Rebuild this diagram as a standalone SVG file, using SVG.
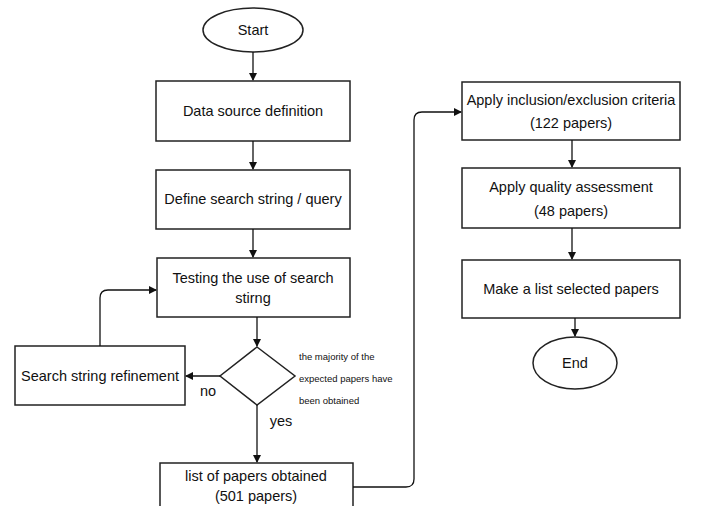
<svg xmlns="http://www.w3.org/2000/svg" width="701" height="506" viewBox="0 0 701 506">
<defs>
<marker id="ah" markerWidth="8" markerHeight="8" refX="7" refY="4" orient="auto" markerUnits="userSpaceOnUse">
<path d="M0,0 L8,4 L0,8 Z" fill="#111"/>
</marker>
<style>
.box{fill:#fff;stroke:#222;stroke-width:1.5}
.t{font-family:"Liberation Sans",Arial,sans-serif;font-size:14.5px;fill:#111;text-anchor:middle}
.s{font-family:"Liberation Sans",Arial,sans-serif;font-size:9.5px;fill:#111}
.c{fill:none;stroke:#111;stroke-width:1.3;marker-end:url(#ah)}
</style>
</defs>
<rect width="701" height="506" fill="#fff"/>
<g id="start"><ellipse class="box" cx="253" cy="30" rx="50" ry="22"/><text class="t" x="253" y="35">Start</text></g>
<g id="n1"><rect class="box" x="156" y="81" width="194" height="60"/><text class="t" x="253" y="116">Data source definition</text></g>
<g id="n2"><rect class="box" x="156" y="170" width="194" height="59"/><text class="t" x="253" y="204">Define search string / query</text></g>
<g id="n3"><rect class="box" x="157" y="258" width="193" height="59"/><text class="t" x="253" y="283">Testing the use of search</text><text class="t" x="253" y="303">stirng</text></g>
<g id="dec"><polygon class="box" points="257,347 295,376 257,405 220,376"/>
<text class="s" x="299" y="360">the majority of the</text><text class="s" x="299" y="382">expected papers have</text><text class="s" x="299" y="404">been obtained</text></g>
<g id="ref"><rect class="box" x="15" y="346" width="170" height="59"/><text class="t" x="100" y="381">Search string refinement</text></g>
<g id="list"><rect class="box" x="160" y="463" width="193" height="60"/><text class="t" x="256" y="481">list of papers obtained</text><text class="t" x="256" y="501">(501 papers)</text></g>
<g id="inc"><rect class="box" x="462" y="82" width="218" height="58"/><text class="t" x="571" y="105">Apply inclusion/exclusion criteria</text><text class="t" x="571" y="128">(122 papers)</text></g>
<g id="qa"><rect class="box" x="462" y="168" width="218" height="60"/><text class="t" x="571" y="192">Apply quality assessment</text><text class="t" x="571" y="216">(48 papers)</text></g>
<g id="mk"><rect class="box" x="462" y="260" width="218" height="58"/><text class="t" x="571" y="294">Make a list selected papers</text></g>
<g id="end"><ellipse class="box" cx="575" cy="363" rx="42" ry="26"/><text class="t" x="575" y="368">End</text></g>
<g id="connectors">
<path class="c" d="M253,52 V80"/>
<path class="c" d="M253,141 V169"/>
<path class="c" d="M253,229 V257"/>
<path class="c" d="M257,317 V346"/>
<path class="c" d="M220,376 H186"/>
<path class="c" d="M257,405 V462"/>
<path class="c" d="M100,346 V298 Q100,290 108,290 H156"/>
<path class="c" d="M353,487 H406 Q414,487 414,479 V120 Q414,112 422,112 H461"/>
<path class="c" d="M572,140 V167"/>
<path class="c" d="M572,228 V259"/>
<path class="c" d="M575,318 V336"/>
<text class="t" x="208" y="396">no</text>
<text class="t" x="281" y="426">yes</text>
</g>
</svg>
